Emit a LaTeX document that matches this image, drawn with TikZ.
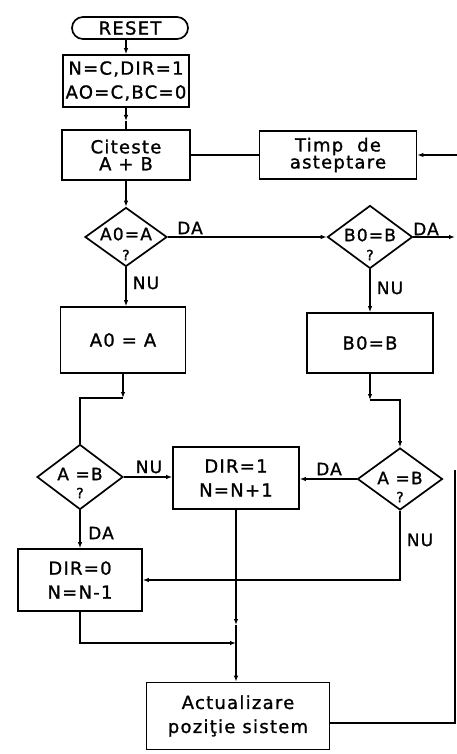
\documentclass[tikz,border=0pt]{standalone}
\usepackage{fontspec}
\setmainfont{DejaVu Sans}[LetterSpace=7,FakeBold=1.2]
\usetikzlibrary{shapes.geometric,arrows.meta}
\begin{document}
\begin{tikzpicture}[x=1pt,y=-1pt,
  box/.style={draw,line width=1.7pt,rectangle,inner sep=0pt,align=center,font=\fontsize{18}{24}\selectfont},
  tightbox/.style={box,font=\fontsize{18}{17}\selectfont},
  dia/.style={draw,line width=1.7pt,diamond,inner sep=0pt},
  txt/.style={inner sep=0pt,font=\fontsize{17}{19}\selectfont},
  qm/.style={inner sep=0pt,font=\fontsize{14}{15}\selectfont},
  lbl/.style={inner sep=0pt,font=\fontsize{17}{18}\selectfont},
  conn/.style={line width=1.3pt},
  arr/.style={conn,-{Latex[length=6pt,width=4.5pt]}}]
\path[use as bounding box] (0,0) rectangle (457,754);
% nodes
\node[box,rounded corners=11pt,minimum width=116pt,minimum height=22pt] (reset) at (130,28) {RESET};
\node[box,minimum width=126pt,minimum height=52pt] (init) at (126,81) {N=C,DIR=1\\AO=C,BC=0};
\node[tightbox,minimum width=128pt,minimum height=50pt] (cit) at (126,155) {Citeste\\A + B};
\node[tightbox,minimum width=157pt,minimum height=48pt] (timp) at (338,155) {Timp\ \ de\\asteptare};
\node[dia,minimum width=82pt,minimum height=59pt] (c1) at (126,237) {};
\node[txt] (c1t) at (126,234) {A0=A};
\node[qm] (c1q) at (126,255) {?};
\node[dia,minimum width=85pt,minimum height=63pt] (b1) at (370,237) {};
\node[txt] (b1t) at (370,235) {B0=B};
\node[qm] (b1q) at (370,255) {?};
\node[box,minimum width=125pt,minimum height=66pt] (a0) at (123,340) {A0 = A};
\node[box,minimum width=126pt,minimum height=60pt] (b0) at (370,343) {B0=B};
\node[dia,minimum width=86pt,minimum height=65pt] (lc) at (80,477) {};
\node[txt] (lct) at (80,474) {A =B};
\node[qm] (lcq) at (80,493) {?};
\node[dia,minimum width=85pt,minimum height=62pt] (rc) at (400,479) {};
\node[txt] (rct) at (400,478) {A =B};
\node[qm] (rcq) at (400,497) {?};
\node[box,minimum width=126pt,minimum height=62pt] (d1) at (236,478) {DIR=1\\N=N+1};
\node[box,minimum width=124pt,minimum height=62pt] (d0) at (80,580) {DIR=0\\N=N-1};
\node[box,minimum width=183pt,minimum height=67pt] (act) at (238,716) {Actualizare\\poziţie sistem};
% labels
\node[lbl] (l1) at (190,228) {DA};
\node[lbl] (l2) at (146,283) {NU};
\node[lbl] (l3) at (426,229) {DA};
\node[lbl] (l4) at (390,288) {NU};
\node[lbl] (l5) at (149,467) {NU};
\node[lbl] (l6) at (329,469) {DA};
\node[lbl] (l7) at (101,533) {DA};
\node[lbl] (l8) at (420,540) {NU};
% helper coordinates
\coordinate (k1) at (126,121);
\coordinate (tin) at (457,155);
\coordinate (bout) at (455,237);
\coordinate (k2) at (123,398);
\coordinate (k3) at (370,400);
\coordinate (k4) at (236,625);
\coordinate (j1) at (236,643);
\coordinate (r1) at (455,470);
% connectors
\draw[arr] (init.north |- reset.south) -- (init.north);
\draw[arr] (init.south) -- (k1);
\draw[conn] (k1) -- (cit.north);
\draw[arr] (cit.south) -- (c1.north);
\draw[conn] (cit.east) -- (timp.west);
\draw[arr] (tin) -- (timp.east);
\draw[arr] (c1.east) -- (b1.west);
\draw[arr] (b1.east) -- (bout);
\draw[arr] (c1.south) -- (c1.south |- a0.north);
\draw[arr] (b1.south) -- (b0.north);
\draw[arr] (a0.south) -- (k2);
\draw[conn] (k2) -| (lc.north);
\draw[arr] (b0.south) -- (k3);
\draw[arr] (k3) -| (rc.north);
\draw[arr] (lc.east) -- (lc.east -| d1.west);
\draw[arr] (rc.west) -- (rc.west -| d1.east);
\draw[arr] (lc.south) -- (d0.north);
\draw[arr] (rc.south) |- (d0.east);
\draw[arr] (d1.south) -- (k4);
\draw[arr] (k4) -- (k4 |- act.north);
\draw[arr] (d0.south) |- (j1);
\draw[conn] ([yshift=-7pt]act.east) -| (r1);
\end{tikzpicture}
\end{document}
